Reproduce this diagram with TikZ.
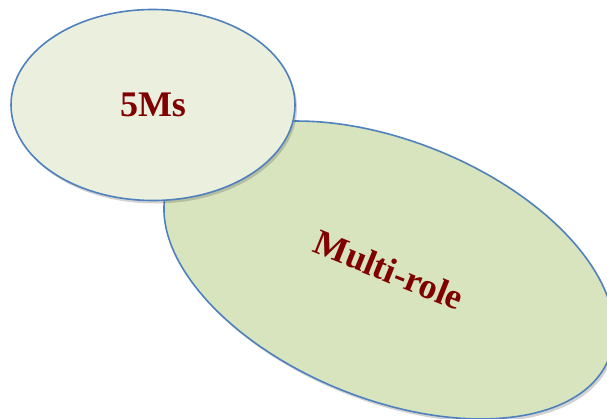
\documentclass[tikz,border=0pt]{standalone}
\usepackage{fontspec}
\setmainfont{Liberation Serif}
\usetikzlibrary{shapes.geometric,shadows}
\definecolor{rimblue}{HTML}{4F81BD}
\definecolor{paleA}{HTML}{EBF0DE}
\definecolor{paleB}{HTML}{D7E4BD}
\definecolor{wordred}{HTML}{800000}
\begin{document}
\begin{tikzpicture}[x=1pt,y=-1pt,line join=round,
	bubble/.style={ellipse,draw=rimblue,line width=1.6pt,inner sep=0pt,
		drop shadow={shadow xshift=2pt,shadow yshift=-3pt,opacity=0.25,fill=black!70}},
	word/.style={text=wordred,font=\bfseries\fontsize{36}{40}\selectfont}]
	\useasboundingbox(0,0)rectangle(607,419);
	\clip(0,0)rectangle(607,419);
	\node[bubble,word,fill=paleB,minimum width=474pt,minimum height=258pt,rotate=-22](multi) at (389,270){Multi-role};
	\node[bubble,word,fill=paleA,minimum width=284pt,minimum height=191pt](fiveMs) at (153,105){5Ms};
\end{tikzpicture}
\end{document}
